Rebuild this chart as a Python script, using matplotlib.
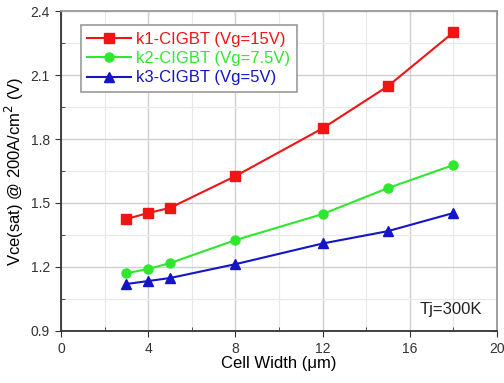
import matplotlib
matplotlib.use("Agg")
import matplotlib.pyplot as plt
from matplotlib.ticker import MultipleLocator, NullFormatter

plt.rcParams['font.family'] = ['Liberation Sans', 'DejaVu Sans']

# data
cell_width = [3, 4, 5, 8, 12, 15, 18]
k1_vce = [1.425, 1.453, 1.477, 1.626, 1.85, 2.048, 2.30]
k2_vce = [1.171, 1.19, 1.218, 1.326, 1.448, 1.57, 1.678]
k3_vce = [1.12, 1.134, 1.148, 1.213, 1.31, 1.368, 1.453]
labels = ["k1-CIGBT (Vg=15V)", "k2-CIGBT (Vg=7.5V)", "k3-CIGBT (Vg=5V)"]
colors = ["#f01414", "#2ee82e", "#1414c8"]
markers = ["s", "o", "^"]

fig = plt.figure(figsize=(5.04, 3.83), dpi=100)
ax = fig.add_axes([0.121, 0.136, 0.865, 0.835])

for y, lab, c, m in zip([k1_vce, k2_vce, k3_vce], labels, colors, markers):
    ax.plot(cell_width, y, color=c, marker=m, markersize=6.5, linewidth=1.5, label=lab)

ax.set_xlim(0, 20)
ax.set_ylim(0.9, 2.4)
ax.xaxis.set_major_locator(MultipleLocator(4))
ax.xaxis.set_minor_locator(MultipleLocator(2))
ax.yaxis.set_major_locator(MultipleLocator(0.3))
ax.yaxis.set_minor_locator(MultipleLocator(0.15))
ax.yaxis.set_major_formatter(plt.FormatStrFormatter('%.1f'))

ax.grid(which='major', color='#d0d0d0', linewidth=1.0)
ax.grid(which='minor', color='#e8e8e8', linewidth=0.8)
ax.set_axisbelow(True)

for s in ax.spines.values():
    s.set_linewidth(1.3)
    s.set_color('#333333')
ax.spines['right'].set_color('#999999')
ax.spines['top'].set_color('#999999')

ax.tick_params(which='major', direction='out', length=4, pad=4, labelsize=10, colors='#333333')
ax.tick_params(which='minor', direction='in', length=3, colors='#333333')

# mirrored inward ticks on top and right
top = ax.secondary_xaxis('top')
top.xaxis.set_major_locator(MultipleLocator(4))
top.xaxis.set_minor_locator(MultipleLocator(2))
top.xaxis.set_major_formatter(NullFormatter())
top.tick_params(which='both', direction='in', length=3.5, colors='#555555')
top.spines['top'].set_visible(False)
right = ax.secondary_yaxis('right')
right.yaxis.set_major_locator(MultipleLocator(0.3))
right.yaxis.set_minor_locator(MultipleLocator(0.15))
right.yaxis.set_major_formatter(NullFormatter())
right.tick_params(which='both', direction='in', length=3.5, colors='#555555')
right.spines['right'].set_visible(False)

ax.set_xlabel("Cell Width (\u03bcm)", fontsize=12, labelpad=0)
ax.set_ylabel("Vce(sat) @ 200A/cm$^2$ (V)", fontsize=12, labelpad=3)

leg = ax.legend(loc='upper left', bbox_to_anchor=(0.045, 0.955), fontsize=12,
                frameon=True, fancybox=False, edgecolor='#999999', framealpha=1,
                handlelength=2.6, handletextpad=0.35, borderpad=0.4,
                labelspacing=0.25, borderaxespad=0)
leg.get_frame().set_linewidth(1.2)
for t, c in zip(leg.get_texts(), colors):
    t.set_color(c)

ax.text(0.965, 0.045, "Tj=300K", transform=ax.transAxes, ha='right', va='bottom',
        fontsize=12, color='#222222')

fig.savefig("out.png", dpi=100)
